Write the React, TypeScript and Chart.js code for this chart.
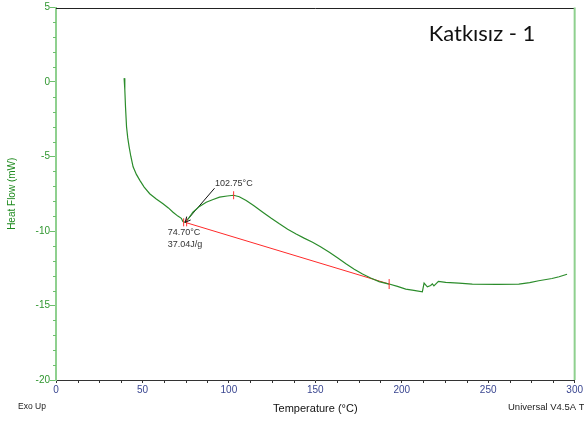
import { useEffect, useRef } from 'react';
import { Chart, registerables } from 'chart.js';

Chart.register(...registerables);

const temperature = [39.4, 39.8, 40.2, 40.8, 41.5, 42.3, 43.3, 44.6, 46.5, 48.5, 51, 54.2, 58, 61.9, 65, 67.7, 70.5, 72.5, 73.4, 74.7, 77, 79.2, 83, 86.9, 90.5, 94.6, 99, 102.75, 106, 110, 114.5, 119.6, 124.5, 129.2, 134, 138.9, 143.5, 148.4, 153, 158.1, 163, 167.7, 172.5, 177.3, 182, 186.9, 192.7, 197.5, 202.3, 207, 211.9, 212.9, 214.8, 216.7, 217.7, 218.6, 221.2, 225.4, 233, 240.8, 255, 267.7, 274, 279.2, 286.9, 291, 295.6];
const heatFlow = [0.26, -0.5, -1.66, -3.0, -3.75, -4.35, -5.0, -5.69, -6.2, -6.6, -7.05, -7.5, -7.85, -8.17, -8.45, -8.74, -9.0, -9.15, -9.37, -9.42, -9.1, -8.74, -8.35, -8.07, -7.9, -7.73, -7.65, -7.6, -7.7, -7.95, -8.3, -8.74, -9.15, -9.52, -9.88, -10.2, -10.48, -10.75, -11.05, -11.43, -11.82, -12.2, -12.57, -12.89, -13.15, -13.4, -13.56, -13.72, -13.9, -13.98, -14.08, -13.5, -13.75, -13.66, -13.55, -13.68, -13.38, -13.45, -13.5, -13.56, -13.58, -13.56, -13.47, -13.34, -13.19, -13.07, -12.9];

const baselineT = [74.7, 192.7];
const baselineHF = [-9.42, -13.56];
const peakT = 102.75;
const peakHF = -7.6;
const arrowEnd = { x: 91.7, y: -7.13 };

const xTicks = [0, 50, 100, 150, 200, 250, 300];
const yTicks = [-20, -15, -10, -5, 0, 5];

const onsetLabel = '74.70°C';
const enthalpyLabel = '37.04J/g';
const peakLabel = '102.75°C';
const sampleTitle = 'Katkısız - 1';

const FONT = '"Liberation Sans", Arial, sans-serif';

const overlay = {
  id: 'overlay',
  afterDraw(chart: any) {
    const { ctx, chartArea: a, scales } = chart;
    const xs = scales.x;
    const ys = scales.y;
    ctx.save();
    // top border
    ctx.strokeStyle = '#222';
    ctx.lineWidth = 1;
    ctx.beginPath();
    ctx.moveTo(a.left, Math.round(a.top) + 0.5);
    ctx.lineTo(a.right, Math.round(a.top) + 0.5);
    ctx.stroke();
    // right axis
    ctx.strokeStyle = '#8fd08f';
    ctx.lineWidth = 2;
    ctx.beginPath();
    ctx.moveTo(a.right, a.top);
    ctx.lineTo(a.right, a.bottom);
    ctx.stroke();
    // minor ticks y
    ctx.strokeStyle = '#6cbf6c';
    ctx.lineWidth = 1;
    for (let v = -20; v <= 5; v += 1) {
      if (v % 5 === 0) continue;
      const py = Math.round(ys.getPixelForValue(v)) + 0.5;
      ctx.beginPath();
      ctx.moveTo(a.left - 3, py);
      ctx.lineTo(a.left, py);
      ctx.stroke();
    }
    // minor ticks x
    ctx.strokeStyle = '#333';
    for (let v = 0; v <= 300; v += 12.5) {
      if (v % 50 === 0) continue;
      const px = Math.round(xs.getPixelForValue(v)) + 0.5;
      ctx.beginPath();
      ctx.moveTo(px, a.bottom);
      ctx.lineTo(px, a.bottom + 3);
      ctx.stroke();
    }
    // red markers
    const ox = xs.getPixelForValue(baselineT[0]);
    const oy = ys.getPixelForValue(baselineHF[0]);
    const ex = xs.getPixelForValue(baselineT[1]);
    const ey = ys.getPixelForValue(baselineHF[1]);
    const pkx = xs.getPixelForValue(peakT);
    const pky = ys.getPixelForValue(peakHF);
    ctx.strokeStyle = '#ff3030';
    ctx.lineWidth = 1;
    const vtick = (x: number, y: number, h: number) => {
      ctx.beginPath();
      ctx.moveTo(x, y - h);
      ctx.lineTo(x, y + h);
      ctx.stroke();
    };
    vtick(ox - 1.5, oy, 4);
    vtick(ox + 1.5, oy, 4);
    vtick(pkx, pky, 4);
    vtick(ex, ey, 5);
    // arrow head
    const ax = xs.getPixelForValue(arrowEnd.x);
    const ay = ys.getPixelForValue(arrowEnd.y);
    const ang = Math.atan2(oy - ay, ox - ax);
    ctx.strokeStyle = '#111';
    ctx.beginPath();
    ctx.moveTo(ox + Math.cos(ang + Math.PI - 0.45) * 6, oy + Math.sin(ang + Math.PI - 0.45) * 6);
    ctx.lineTo(ox, oy);
    ctx.lineTo(ox + Math.cos(ang + Math.PI + 0.45) * 6, oy + Math.sin(ang + Math.PI + 0.45) * 6);
    ctx.stroke();
    // annotation text
    ctx.fillStyle = '#333';
    ctx.font = `9px ${FONT}`;
    ctx.textBaseline = 'middle';
    ctx.textAlign = 'left';
    ctx.fillText(onsetLabel, ox - 17.5, oy + 10.5);
    ctx.fillText(enthalpyLabel, ox - 17.5, oy + 22);
    ctx.fillText(peakLabel, ax + 0.5, ay - 5);
    // footer texts
    ctx.fillStyle = '#222';
    ctx.font = `8.5px ${FONT}`;
    ctx.fillText('Exo Up', 18, 407);
    ctx.font = `9.5px ${FONT}`;
    ctx.fillText('Universal V4.5A T', 508, 407);
    // sample title
    ctx.fillStyle = '#111';
    ctx.font = `22px Lato, "Open Sans", sans-serif`;
    ctx.textAlign = 'center';
    ctx.textBaseline = 'alphabetic';
    ctx.fillText(sampleTitle, 482, 41);
    ctx.restore();
  },
};

export default function App() {
  const ref = useRef<HTMLCanvasElement | null>(null);
  useEffect(() => {
    if (!ref.current) return;
    const chart = new Chart(ref.current, {
      type: 'scatter',
      data: {
        datasets: [
          {
            data: temperature.map((t, i) => ({ x: t, y: heatFlow[i] })),
            showLine: true,
            borderColor: '#2b8c2b',
            borderWidth: 1.2,
            pointRadius: 0,
            tension: 0,
          },
          {
            data: baselineT.map((t, i) => ({ x: t, y: baselineHF[i] })),
            showLine: true,
            borderColor: '#ff2a2a',
            borderWidth: 1,
            pointRadius: 0,
          },
          {
            data: [
              { x: baselineT[0], y: baselineHF[0] },
              { x: arrowEnd.x, y: arrowEnd.y },
            ],
            showLine: true,
            borderColor: '#111',
            borderWidth: 1,
            pointRadius: 0,
          },
        ],
      },
      options: {
        responsive: false,
        animation: false,
        devicePixelRatio: 1,
        layout: { padding: { top: 7.5, right: 8, left: 0, bottom: 0 } },
        plugins: { legend: { display: false }, tooltip: { enabled: false } },
        scales: {
          x: {
            type: 'linear',
            min: 0,
            max: 300,
            afterBuildTicks: (s: any) => {
              s.ticks = xTicks.map((v) => ({ value: v }));
            },
            afterFit: (s: any) => {
              s.height = 43;
            },
            ticks: {
              color: '#3a4690',
              font: { family: FONT, size: 10 },
              padding: 1,
              maxRotation: 0,
              autoSkip: false,
            },
            grid: { drawOnChartArea: false, drawTicks: true, tickLength: 3, color: '#333' },
            border: { color: '#333', width: 1 },
            title: {
              display: true,
              text: 'Temperature (°C)',
              color: '#111',
              font: { family: FONT, size: 11 },
              padding: { top: 0, bottom: 7.4 },
            },
          },
          y: {
            type: 'linear',
            min: -20,
            max: 5,
            afterBuildTicks: (s: any) => {
              s.ticks = yTicks.map((v) => ({ value: v }));
            },
            afterFit: (s: any) => {
              s.width = 56;
            },
            ticks: {
              color: '#2f962f',
              font: { family: FONT, size: 10 },
              padding: 0,
              autoSkip: false,
            },
            grid: { drawOnChartArea: false, drawTicks: true, tickLength: 6, color: '#6cbf6c' },
            border: { color: '#8fd08f', width: 2 },
            title: {
              display: true,
              text: 'Heat Flow (mW)',
              color: '#1e8a1e',
              font: { family: FONT, size: 10 },
              padding: { top: 6, bottom: 0 },
            },
          },
        },
      },
      plugins: [overlay],
    });
    return () => chart.destroy();
  }, []);
  return (
    <div style={{ position: 'fixed', left: 0, top: 0, width: 584, height: 423, background: '#fff' }}>
      <canvas ref={ref} width={584} height={423} style={{ display: 'block' }} />
    </div>
  );
}
